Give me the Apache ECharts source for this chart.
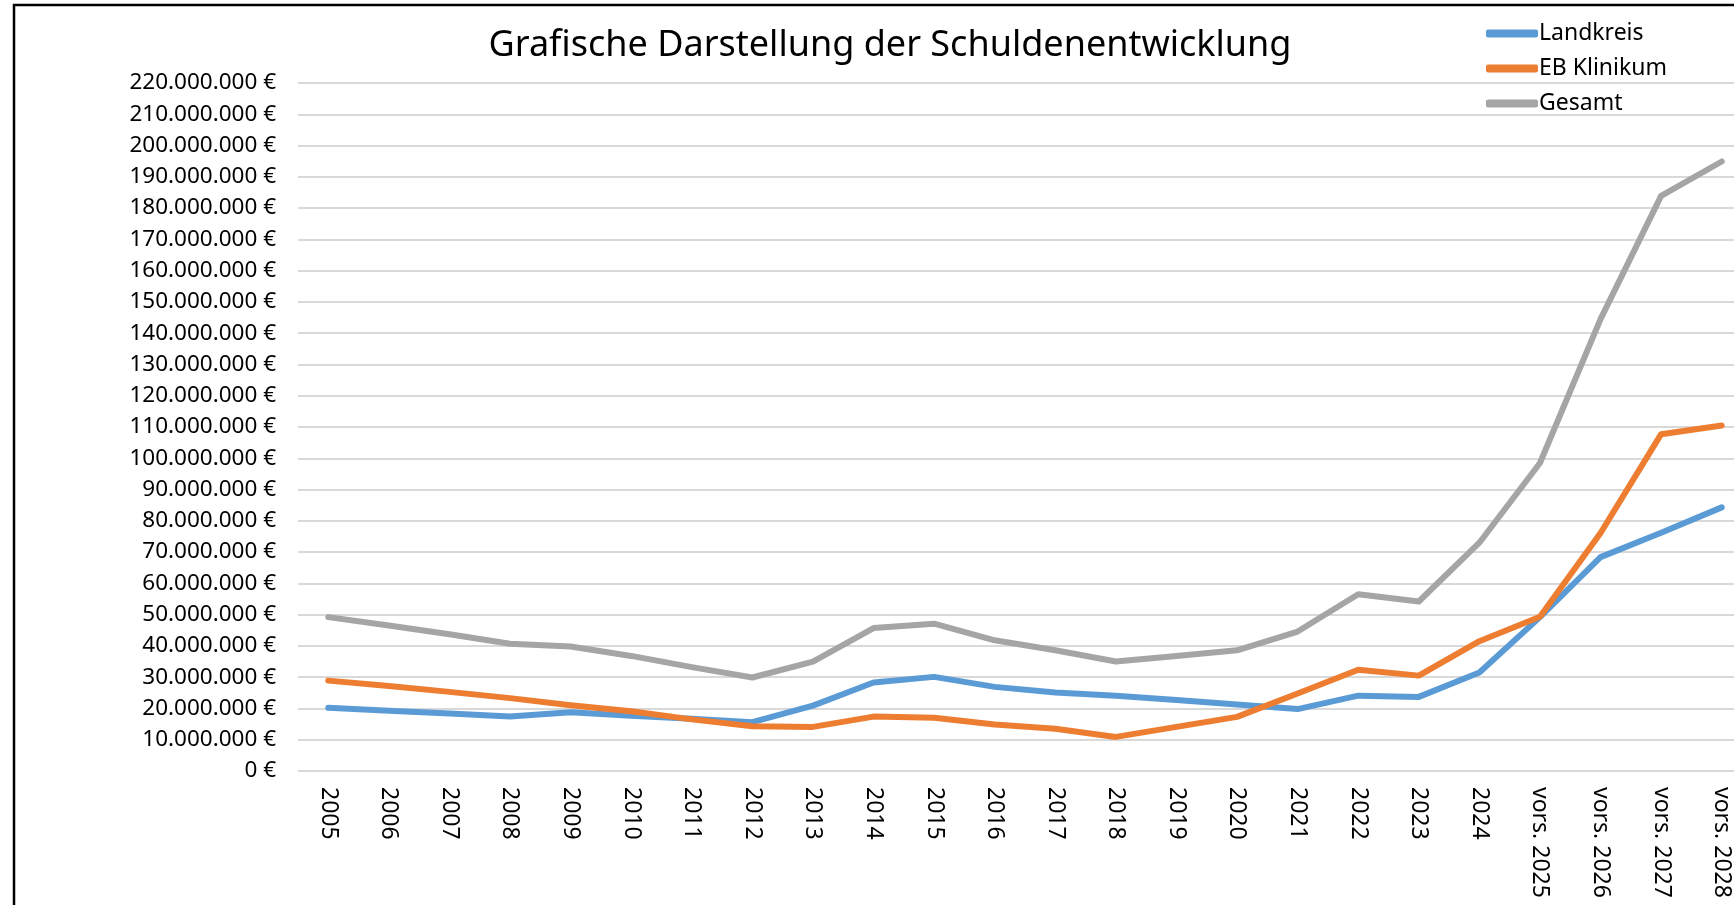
<!DOCTYPE html>
<html>
    <head>
        <title>Grafische Darstellung der Schuldenentwicklung</title>
        <meta charset="UTF-8">
        <script type="text/javascript" src="https://cdn.jsdelivr.net/npm/echarts@6/dist/echarts.min.js"></script>
        <style>
            html, body { margin: 0; padding: 0; background: #fff; overflow: hidden; }
            #container { width: 1760px; height: 905px; }
        </style>
    </head>
    <body>
        <div id="container"></div>
        <script type="text/javascript">
            var jahre = ['2005', '2006', '2007', '2008', '2009', '2010', '2011', '2012', '2013', '2014', '2015', '2016',
                '2017', '2018', '2019', '2020', '2021', '2022', '2023', '2024', 'vors. 2025', 'vors. 2026', 'vors. 2027', 'vors. 2028'];
            // Werte in Mio. Euro
            var landkreis = [20.2, 19.3, 18.4, 17.4, 18.8, 17.7, 16.7, 15.6, 20.9, 28.3, 30.1, 26.9,
                25.1, 24.1, 22.7, 21.3, 19.8, 24.1, 23.7, 31.5, 49.2, 68.4, 76.2, 84.3];
            var klinikum = [28.9, 27.2, 25.3, 23.3, 21.0, 19.1, 16.5, 14.3, 14.1, 17.4, 17.0, 14.9,
                13.5, 10.9, 14.1, 17.3, 24.8, 32.4, 30.5, 41.5, 49.3, 76.1, 107.7, 110.5];
            var gesamt = [49.2, 46.5, 43.7, 40.7, 39.8, 36.8, 33.2, 29.9, 35.0, 45.7, 47.1, 41.8,
                38.6, 35.0, 36.8, 38.6, 44.6, 56.5, 54.2, 73.0, 98.5, 144.5, 183.9, 194.9];

            function mio(arr) {
                return arr.map(function (v) { return Math.round(v * 1000000); });
            }
            function euro(v) {
                return String(v).replace(/\B(?=(\d{3})+(?!\d))/g, '.') + ' €';
            }

            var schrift = 'Noto Sans';
            var myChart = echarts.init(document.getElementById('container'));
            var option = {
                animation: false,
                backgroundColor: '#fff',
                textStyle: { fontFamily: schrift },
                graphic: [{
                    type: 'rect',
                    shape: { x: 14, y: 5, width: 1800, height: 1000 },
                    style: { fill: 'none', stroke: '#000', lineWidth: 2.5 },
                    silent: true
                }],
                title: {
                    text: 'Grafische Darstellung der Schuldenentwicklung',
                    left: 885,
                    textAlign: 'center',
                    top: 23,
                    textStyle: { fontFamily: schrift, fontSize: 36, fontWeight: 'normal', color: '#000' }
                },
                legend: {
                    orient: 'vertical',
                    left: 1481,
                    top: 17,
                    itemWidth: 52,
                    itemHeight: 8,
                    itemGap: 12,
                    icon: 'roundRect',
                    textStyle: { fontFamily: schrift, fontSize: 23, color: '#000', padding: [0, 0, 0, -4] },
                    data: ['Landkreis', 'EB Klinikum', 'Gesamt']
                },
                grid: {
                    left: 298,
                    top: 83,
                    width: 1454,
                    height: 688,
                    containLabel: false
                },
                xAxis: {
                    type: 'category',
                    data: jahre,
                    boundaryGap: true,
                    axisLine: { show: false },
                    axisTick: { show: false },
                    axisLabel: {
                        rotate: -90,
                        interval: 0,
                        margin: 16,
                        fontFamily: schrift,
                        fontSize: 23,
                        color: '#000'
                    }
                },
                yAxis: {
                    type: 'value',
                    min: 0,
                    max: 220000000,
                    interval: 10000000,
                    axisLine: { show: false },
                    axisTick: { show: false },
                    axisLabel: {
                        margin: 22,
                        fontFamily: schrift,
                        fontSize: 22.5,
                        color: '#000',
                        formatter: euro
                    },
                    splitLine: { lineStyle: { color: '#d9d9d9', width: 2 } }
                },
                series: [{
                        name: 'Landkreis',
                        type: 'line',
                        data: mio(landkreis),
                        showSymbol: false,
                        symbol: 'none',
                        itemStyle: { color: '#5b9bd5' },
                        lineStyle: { color: '#5b9bd5', width: 6, cap: 'round', join: 'round' }
                    }, {
                        name: 'EB Klinikum',
                        type: 'line',
                        data: mio(klinikum),
                        showSymbol: false,
                        symbol: 'none',
                        itemStyle: { color: '#ed7d31' },
                        lineStyle: { color: '#ed7d31', width: 6, cap: 'round', join: 'round' }
                    }, {
                        name: 'Gesamt',
                        type: 'line',
                        data: mio(gesamt),
                        showSymbol: false,
                        symbol: 'none',
                        itemStyle: { color: '#a5a5a5' },
                        lineStyle: { color: '#a5a5a5', width: 6, cap: 'round', join: 'round' }
                    }
                ]
            };
            myChart.setOption(option);
        </script>
    </body>
</html>
